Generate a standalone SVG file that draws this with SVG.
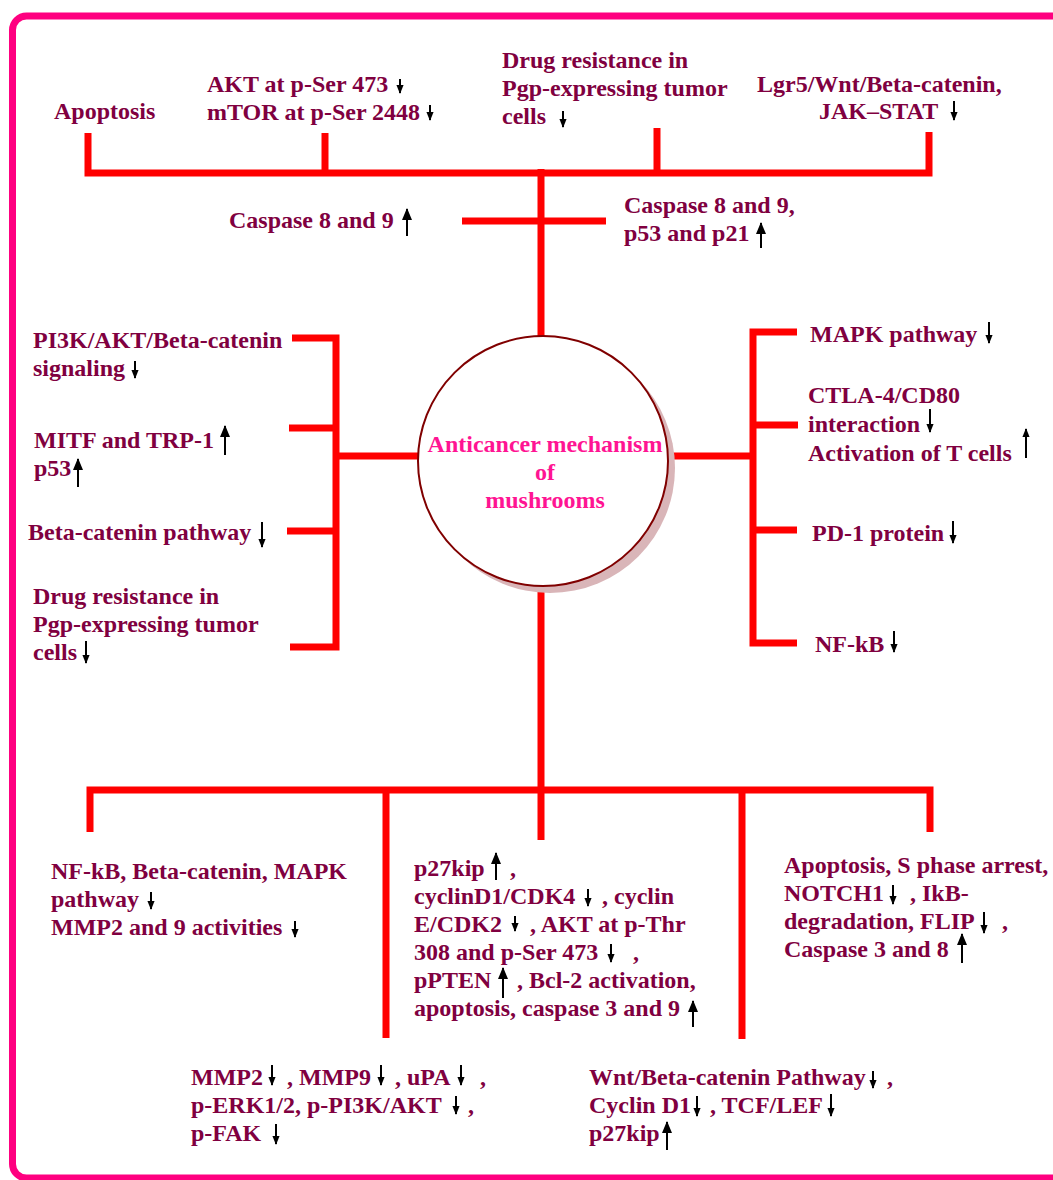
<svg xmlns="http://www.w3.org/2000/svg" width="1053" height="1180" viewBox="0 0 1053 1180">
<defs>
<style>
.t{font-family:"Liberation Serif","Times New Roman",serif;font-weight:bold;font-size:24px;fill:#800040}
.c{font-family:"Liberation Serif","Times New Roman",serif;font-weight:bold;font-size:24px;fill:#FF1493;text-anchor:middle}
.r{stroke:#FF0000;stroke-width:7;fill:none;stroke-linejoin:miter}
.a{stroke:#000;stroke-width:2;marker-end:url(#ah)}
.u{stroke:#000;stroke-width:2;marker-end:url(#ahu)}
</style>
<marker id="ah" viewBox="0 0 10 8" refX="9" refY="4" markerUnits="userSpaceOnUse" markerWidth="9" markerHeight="7.2" orient="auto">
<path d="M0,0 L10,4 L0,8 z" fill="#000"/>
</marker>
<marker id="ahu" viewBox="0 0 12 10" refX="11" refY="5" markerUnits="userSpaceOnUse" markerWidth="12" markerHeight="10" orient="auto">
<path d="M0,0 L12,5 L0,10 z" fill="#000"/>
</marker>
</defs>
<rect width="1053" height="1180" fill="#fff"/>
<rect x="12.5" y="16" width="1070" height="1162" rx="14" fill="none" stroke="#FF0080" stroke-width="7"/>

<g id="connectors">
<polyline class="r" points="88,133 88,173 929,173 929,132"/>
<line class="r" x1="325" y1="133" x2="325" y2="173"/>
<line class="r" x1="657" y1="128" x2="657" y2="173"/>
<line class="r" x1="541" y1="169" x2="541" y2="337"/>
<line class="r" x1="462" y1="221" x2="606" y2="221"/>
<polyline class="r" points="292,338 336,338 336,647 290,647"/>
<line class="r" x1="289" y1="428" x2="336" y2="428"/>
<line class="r" x1="287" y1="531" x2="336" y2="531"/>
<line class="r" x1="336" y1="456" x2="419" y2="456"/>
<polyline class="r" points="797,332 753,332 753,643 797,643"/>
<line class="r" x1="753" y1="425" x2="798" y2="425"/>
<line class="r" x1="753" y1="530" x2="797" y2="530"/>
<line class="r" x1="667" y1="456" x2="753" y2="456"/>
<polyline class="r" points="90,832 90,790 930,790 930,832"/>
<line class="r" x1="386" y1="790" x2="386" y2="1038"/>
<line class="r" x1="742" y1="790" x2="742" y2="1039"/>
<line class="r" x1="541" y1="587" x2="541" y2="840"/>
</g>

<g id="center">
<circle cx="550" cy="468" r="125" fill="#D9B5B8"/>
<circle cx="543" cy="461" r="125" fill="#fff" stroke="#800000" stroke-width="2"/>
<text class="c" x="545" y="452">Anticancer mechanism</text>
<text class="c" x="545" y="480">of</text>
<text class="c" x="545" y="508">mushrooms</text>
</g>

<g id="top-apoptosis">
<text class="t" x="54" y="119">Apoptosis</text>
</g>
<g id="top-akt">
<text class="t" x="207" y="92">AKT at p-Ser 473</text>
<text class="t" x="207" y="120">mTOR at p-Ser 2448</text>
<line class="a" x1="400" y1="79" x2="400" y2="93"/>
<line class="a" x1="430" y1="105" x2="430" y2="120"/>
</g>
<g id="top-drug">
<text class="t" x="502" y="68">Drug resistance in</text>
<text class="t" x="502" y="96">Pgp-expressing tumor</text>
<text class="t" x="502" y="124">cells</text>
<line class="a" x1="563" y1="111" x2="563" y2="127"/>
</g>
<g id="top-lgr5">
<text class="t" x="757" y="92">Lgr5/Wnt/Beta-catenin,</text>
<text class="t" x="819" y="119">JAK–STAT</text>
<line class="a" x1="954" y1="101" x2="954" y2="120"/>
</g>
<g id="caspase-left">
<text class="t" x="229" y="228">Caspase 8 and 9</text>
<line class="u" x1="407" y1="236" x2="407" y2="209"/>
</g>
<g id="caspase-right">
<text class="t" x="624" y="213">Caspase 8 and 9,</text>
<text class="t" x="624" y="241">p53 and p21</text>
<line class="u" x1="761" y1="248" x2="761" y2="223"/>
</g>

<g id="left-pi3k">
<text class="t" x="33" y="348">PI3K/AKT/Beta-catenin</text>
<text class="t" x="33" y="376">signaling</text>
<line class="a" x1="135" y1="361" x2="135" y2="378"/>
</g>
<g id="left-mitf">
<text class="t" x="34" y="448">MITF and TRP-1</text>
<text class="t" x="34" y="476">p53</text>
<line class="u" x1="225" y1="455" x2="225" y2="426"/>
<line class="u" x1="78" y1="487" x2="78" y2="459"/>
</g>
<g id="left-beta">
<text class="t" x="28" y="540">Beta-catenin pathway</text>
<line class="a" x1="262" y1="522" x2="262" y2="547"/>
</g>
<g id="left-drug">
<text class="t" x="33" y="604">Drug resistance in</text>
<text class="t" x="33" y="632">Pgp-expressing tumor</text>
<text class="t" x="33" y="660">cells</text>
<line class="a" x1="86" y1="641" x2="86" y2="663"/>
</g>

<g id="right-mapk">
<text class="t" x="810" y="342">MAPK pathway</text>
<line class="a" x1="989" y1="322" x2="989" y2="343"/>
</g>
<g id="right-ctla">
<text class="t" x="808" y="403">CTLA-4/CD80</text>
<text class="t" x="808" y="432">interaction</text>
<text class="t" x="808" y="461">Activation of T cells</text>
<line class="a" x1="930" y1="409" x2="930" y2="432"/>
<line class="a" x1="1026" y1="458" x2="1026" y2="429"/>
</g>
<g id="right-pd1">
<text class="t" x="812" y="541">PD-1 protein</text>
<line class="a" x1="953" y1="521" x2="953" y2="543"/>
</g>
<g id="right-nfkb">
<text class="t" x="815" y="652">NF-kB</text>
<line class="a" x1="894" y1="631" x2="894" y2="652"/>
</g>

<g id="bottom-nfkb">
<text class="t" x="51" y="879">NF-kB, Beta-catenin, MAPK</text>
<text class="t" x="51" y="907">pathway</text>
<text class="t" x="51" y="935">MMP2 and 9 activities</text>
<line class="a" x1="151" y1="892" x2="151" y2="909"/>
<line class="a" x1="295" y1="921" x2="295" y2="937"/>
</g>
<g id="bottom-p27">
<text class="t" x="414" y="876">p27kip<tspan x="510">,</tspan></text>
<text class="t" x="414" y="904">cyclinD1/CDK4<tspan x="602">, cyclin</tspan></text>
<text class="t" x="414" y="932">E/CDK2<tspan x="530">, AKT at p-Thr</tspan></text>
<text class="t" x="414" y="960">308 and p-Ser 473<tspan x="633">,</tspan></text>
<text class="t" x="414" y="988">pPTEN<tspan x="517">, Bcl-2 activation,</tspan></text>
<text class="t" x="414" y="1016">apoptosis, caspase 3 and 9</text>
<line class="u" x1="496" y1="880" x2="496" y2="853"/>
<line class="a" x1="588" y1="889" x2="588" y2="906"/>
<line class="a" x1="515" y1="916" x2="515" y2="931"/>
<line class="a" x1="611" y1="944" x2="611" y2="962"/>
<line class="u" x1="503" y1="998" x2="503" y2="968"/>
<line class="u" x1="693" y1="1027" x2="693" y2="1001"/>
</g>
<g id="bottom-apoptosis">
<text class="t" x="784" y="873">Apoptosis, S phase arrest,</text>
<text class="t" x="784" y="901">NOTCH1<tspan x="910">, IkB-</tspan></text>
<text class="t" x="784" y="929">degradation, FLIP<tspan x="1002">,</tspan></text>
<text class="t" x="784" y="957">Caspase 3 and 8</text>
<line class="a" x1="893" y1="885" x2="893" y2="904"/>
<line class="a" x1="984" y1="912" x2="984" y2="933"/>
<line class="u" x1="962" y1="963" x2="962" y2="934"/>
</g>
<g id="bottom-mmp">
<text class="t" x="191" y="1085">MMP2<tspan x="287">, MMP9</tspan><tspan x="395">, uPA</tspan><tspan x="480">,</tspan></text>
<text class="t" x="191" y="1113">p-ERK1/2, p-PI3K/AKT<tspan x="468">,</tspan></text>
<text class="t" x="191" y="1141">p-FAK</text>
<line class="a" x1="272" y1="1065" x2="272" y2="1085"/>
<line class="a" x1="381" y1="1065" x2="381" y2="1085"/>
<line class="a" x1="461" y1="1065" x2="461" y2="1085"/>
<line class="a" x1="456" y1="1096" x2="456" y2="1114"/>
<line class="a" x1="276" y1="1124" x2="276" y2="1144"/>
</g>
<g id="bottom-wnt">
<text class="t" x="589" y="1085">Wnt/Beta-catenin Pathway<tspan x="887">,</tspan></text>
<text class="t" x="589" y="1113">Cyclin D1<tspan x="710">, TCF/LEF</tspan></text>
<text class="t" x="589" y="1141">p27kip</text>
<line class="a" x1="873" y1="1071" x2="873" y2="1088"/>
<line class="a" x1="697" y1="1096" x2="697" y2="1116"/>
<line class="a" x1="831" y1="1094" x2="831" y2="1116"/>
<line class="u" x1="667" y1="1150" x2="667" y2="1122"/>
</g>
</svg>
